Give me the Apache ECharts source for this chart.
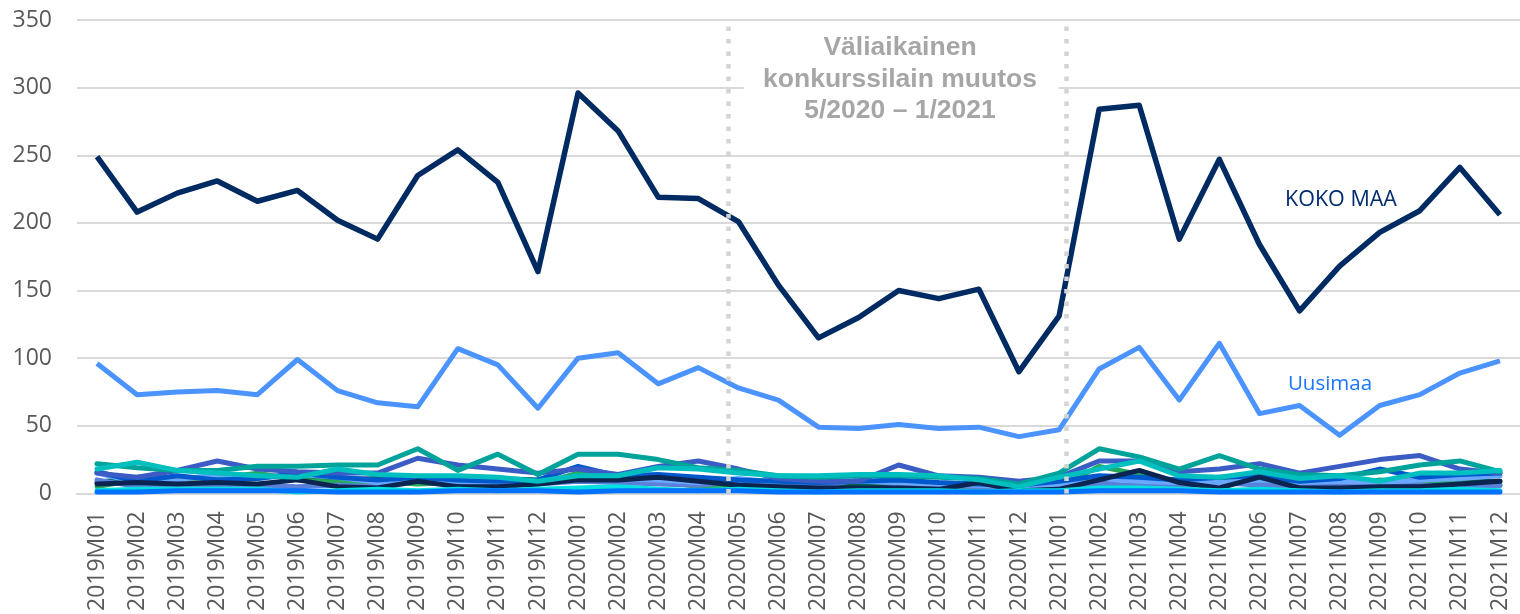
<!DOCTYPE html>
<html>
<head>
<meta charset="utf-8">
<script src="https://cdn.jsdelivr.net/npm/echarts@6/dist/echarts.min.js"></script>
<style>
html,body{margin:0;padding:0;background:#fff;}
#chart{width:1520px;height:614px;}
</style>
</head>
<body>
<div id="chart"></div>
<script>
const categories = [
  '2019M01','2019M02','2019M03','2019M04','2019M05','2019M06','2019M07','2019M08','2019M09','2019M10','2019M11','2019M12',
  '2020M01','2020M02','2020M03','2020M04','2020M05','2020M06','2020M07','2020M08','2020M09','2020M10','2020M11','2020M12',
  '2021M01','2021M02','2021M03','2021M04','2021M05','2021M06','2021M07','2021M08','2021M09','2021M10','2021M11','2021M12'
];
const yTicks = [0, 50, 100, 150, 200, 250, 300, 350];

const kokoMaa = [249,208,222,231,216,224,202,188,235,254,230,164, 296,268,219,218,201,154,115,130,150,144,151,90, 131,284,287,188,247,184,135,168,193,209,241,206];
const uusimaa = [96,73,75,76,73,99,76,67,64,107,95,63, 100,104,81,93,78,69,49,48,51,48,49,42, 47,92,108,69,111,59,65,43,65,73,89,98];

const teal = [22,19,17,17,20,20,21,21,33,17,29,14, 29,29,25,19,17,13,12,13,13,12,11,7, 15,33,27,18,28,18,14,13,16,21,24,16];
const indigo = [15,12,17,24,18,16,15,15,26,21,18,15, 18,14,20,24,18,11,9,9,21,13,12,9, 12,24,24,16,18,22,15,20,25,28,18,15];
const cyan = [18,23,17,15,13,12,18,14,13,13,12,9, 13,13,19,18,15,13,13,14,14,13,10,5, 12,18,24,13,12,16,11,13,9,15,15,17];
const blue = [16,9,13,10,11,15,12,10,12,10,9,10, 20,13,14,12,10,9,8,9,10,8,7,6, 9,13,12,10,12,13,9,11,18,12,14,15];
const lightBlue = [15,8,10,14,11,14,12,8,10,9,8,9, 12,11,10,8,11,8,10,9,8,7,6,5, 7,11,9,8,8,10,8,9,8,10,11,13];
const navy = [7,8,7,8,7,10,5,4,9,5,5,7, 10,10,12,9,6,5,4,4,4,3,8,2, 3,10,17,8,4,12,4,4,5,5,7,9];
const darkGreen = [8,12,11,12,13,12,10,11,9,12,11,10, 9,9,9,8,7,8,7,6,6,5,5,4, 6,10,12,8,9,8,7,6,8,10,9,9];
const green = [5,10,12,11,15,10,8,9,7,8,6,7, 15,12,9,5,4,3,2,3,4,3,3,3, 5,20,14,8,10,8,6,5,10,9,8,6];
const periwinkle = [10,5,6,5,6,5,6,5,10,8,8,7, 9,8,7,6,9,6,5,10,7,6,5,4, 5,7,6,5,8,6,5,6,7,6,5,6];
const brightCyan = [2,3,3,3,3,1,2,3,2,3,2,3, 4,5,3,2,3,2,1,2,2,2,1,2, 2,4,4,3,2,3,2,1,2,2,3,2];
const brightBlue = [1,1,2,2,2,2,1,1,1,2,2,2, 1,2,2,2,2,1,1,1,1,1,1,1, 1,2,2,2,1,1,1,1,1,1,1,1];

// dotted period markers (fractional category index)
const periodMarks = [15.75, 24.17];

const chart = echarts.init(document.getElementById('chart'), null, {renderer: 'canvas'});

function small(name, data, color, z) {
  return {
    name, type: 'line', data, symbol: 'none', smooth: false, z: z,
    lineStyle: {color, width: 5, cap: 'round', join: 'round'}, itemStyle: {color},
    silent: true
  };
}

const option = {
  animation: false,
  backgroundColor: '#ffffff',
  grid: {left: 77, right: 0, top: 20, bottom: 120, containLabel: false},
  xAxis: [{
    type: 'category', data: categories, boundaryGap: true,
    axisLine: {show: true, lineStyle: {color: '#d9d9d9', width: 2}},
    axisTick: {show: false},
    axisLabel: {rotate: 90, interval: 0, fontFamily: 'Open Sans', fontSize: 23, color: '#595959', margin: 18}
  }, {
    type: 'value', min: -0.5, max: 35.5, show: false
  }],
  yAxis: {
    type: 'value', min: yTicks[0], max: yTicks[yTicks.length - 1], interval: 50,
    axisLine: {show: false}, axisTick: {show: false},
    splitLine: {lineStyle: {color: '#d9d9d9', width: 2}},
    axisLabel: {fontFamily: 'Open Sans', fontSize: 23, color: '#595959', margin: 25}
  },
  series: [
    small('darkGreen', darkGreen, '#00634A', 2),
    small('green', green, '#25A95A', 2),
    small('periwinkle', periwinkle, '#5B80D9', 2),
    small('lightBlue', lightBlue, '#6AA7FF', 2),
    small('blue', blue, '#0058CC', 2),
    small('navy', navy, '#0B2550', 2),
    small('indigo', indigo, '#3A5CC4', 2),
    small('teal', teal, '#00A39A', 2),
    small('cyan', cyan, '#00BFBF', 2),
    small('brightCyan', brightCyan, '#00E0E0', 2),
    small('brightBlue', brightBlue, '#0072FF', 2),
    {
      name: 'Uusimaa', type: 'line', data: uusimaa, symbol: 'none', z: 3,
      lineStyle: {color: '#4B94FF', width: 5, join: 'round'}, itemStyle: {color: '#4B94FF'}
    },
    {
      name: 'KOKO MAA', type: 'line', data: kokoMaa, symbol: 'none', z: 4,
      lineStyle: {color: '#002B62', width: 5.5, join: 'round'}, itemStyle: {color: '#002B62'}
    },
    {
      name: 'marks', type: 'line', xAxisIndex: 1, data: [], symbol: 'none', z: 10,
      markLine: {
        silent: true, symbol: ['none', 'none'], label: {show: false},
        lineStyle: {color: '#d4d4d4', width: 4.5, type: [4.5, 8], cap: 'butt'},
        data: periodMarks.map(v => ({xAxis: v}))
      }
    }
  ],
  graphic: [
    {type: 'rect', z: 20, shape: {x: 744, y: 30, width: 315, height: 100}, style: {fill: '#ffffff'}},
    {type: 'text', z: 21, style: {
      x: 900, y: 32, text: 'Väliaikainen\nkonkurssilain muutos\n5/2020 – 1/2021',
      textAlign: 'center', textVerticalAlign: 'top',
      font: 'bold 26.5px "Liberation Sans", Arial, sans-serif', lineHeight: 31.5, fill: '#a6a6a6'
    }},
    {type: 'text', z: 21, style: {
      x: 1341, y: 200, text: 'KOKO MAA', textAlign: 'center', textVerticalAlign: 'middle',
      font: '21.5px "Open Sans", sans-serif', fill: '#002B6E'
    }},
    {type: 'text', z: 21, style: {
      x: 1330, y: 384, text: 'Uusimaa', textAlign: 'center', textVerticalAlign: 'middle',
      font: '20.5px "Open Sans", sans-serif', fill: '#1A75FF'
    }}
  ]
};
chart.setOption(option);
</script>
</body>
</html>
